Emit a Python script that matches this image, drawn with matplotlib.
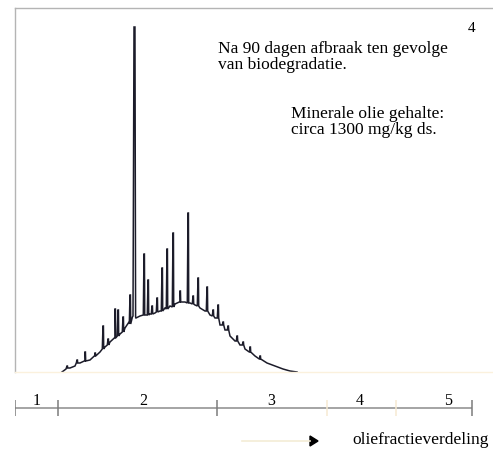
import matplotlib.pyplot as plt
import numpy as np

# Envelope of the unresolved hump (retention, signal), arbitrary units
env_rt = [47, 51, 55, 60, 65, 70, 75, 80, 85, 90, 95, 100, 105, 110, 114, 118,
          121, 125, 130, 135, 140, 145, 150, 155, 160, 165, 170, 175, 180, 185,
          190, 195, 200, 205, 210, 215, 220, 225, 230, 235, 240, 245, 252, 260,
          268, 275, 282]
env_sig = [0, 3, 4, 6, 9, 11, 12, 16, 20, 25, 30, 34, 38, 44, 50, 56,
           54, 56, 57, 58, 59, 61, 64, 66, 68, 70, 70, 69, 67, 64,
           61, 57, 54, 47, 42, 36, 31, 27, 23, 20, 16, 13, 9, 6,
           3, 1, 0]

# Resolved peaks: retention, signal at peak foot, signal at apex
peak_rt = [52, 62, 70, 80, 88, 93, 100, 103, 108, 115, 119, 129, 133, 137, 142,
           147, 152, 158, 165, 173, 178, 183, 192, 198, 203, 208, 213, 222, 228,
           235, 245]
peak_base = [4, 9, 11, 16, 23, 27, 34, 36, 40, 48, 55, 57, 57, 58, 60,
             61, 63, 65, 70, 69, 68, 66, 61, 56, 54, 47, 42, 31, 27,
             20, 13]
peak_top = [6, 12, 20, 19, 46, 33, 63, 62, 55, 77, 345, 118, 92, 66, 74,
            104, 123, 139, 81, 159, 76, 94, 85, 62, 67, 50, 46, 36, 30,
            25, 16]

# Fraction scale below the chromatogram
frac_edges = [0, 43, 202, 312, 381, 457]
frac_major = [True, True, True, False, False, True]
frac_labels = ['1', '2', '3', '4', '5']
frac_label_pos = [22, 128, 256, 345, 433]

# merge envelope and peaks into one trace
pts = list(zip(env_rt, env_sig))
for rt, base, top in zip(peak_rt, peak_base, peak_top):
    w = 1.6 if top > 300 else 0.7
    pts += [(rt - w, base), (rt, top), (rt + w * 0.6, top), (rt + w, base)]
pts.sort(key=lambda p: p[0])
trace_rt = [p[0] for p in pts]
trace_sig = [p[1] for p in pts]

W, H = 493, 450
fig = plt.figure(figsize=(W / 100, H / 100), dpi=100)
serif = 'Liberation Serif'

ax = fig.add_axes([15 / W, (H - 372) / H, 478 / W, 364 / H])
ax.plot(trace_rt, trace_sig, color='#1c1c2a', lw=1.1, solid_joinstyle='miter')
ax.set_xlim(0, 478)
ax.set_ylim(0, 364)
ax.set_xticks([])
ax.set_yticks([])
ax.spines['right'].set_visible(False)
for s in ('top', 'left'):
    ax.spines[s].set_color('#b4b4b4')
    ax.spines[s].set_linewidth(1.0)
ax.spines['bottom'].set_color('#fbf1dd')
ax.spines['bottom'].set_linewidth(1.0)

ax.text(457, 344, '4', fontfamily=serif, fontsize=11, ha='center', va='center')
ax.text(203, 315, 'Na 90 dagen afbraak ten gevolge\nvan biodegradatie.',
        fontfamily=serif, fontsize=12.5, ha='left', va='center', linespacing=1.0)
ax.text(276, 250, 'Minerale olie gehalte:\ncirca 1300 mg/kg ds.',
        fontfamily=serif, fontsize=12.5, ha='left', va='center', linespacing=1.0)

# fraction scale
sx = fig.add_axes([15 / W, (H - 420) / H, 478 / W, 24 / H])
sx.set_xlim(0, 478)
sx.set_ylim(-1, 1)
sx.axis('off')
sx.hlines(-0.0, frac_edges[0], frac_edges[-1], color='#8c8c8c', lw=1.1)
for e, major in zip(frac_edges, frac_major):
    sx.vlines(e, -0.7, 0.7, color='#7c7c7c' if major else '#f6ead2', lw=1.1)
for lab, pos in zip(frac_labels, frac_label_pos):
    sx.text(pos, 0.6, lab, fontfamily=serif, fontsize=11.5, ha='center', va='center')

# direction arrow with caption
fig.add_artist(plt.Line2D([242 / W, 310 / W], [(H - 441) / H] * 2,
                          color='#f4ecd6', lw=1.2))
fig.add_artist(plt.Polygon([[310 / W, (H - 436) / H], [318 / W, (H - 441) / H],
                            [310 / W, (H - 446) / H]], closed=True,
                           color='black', transform=fig.transFigure))
fig.text(352 / W, (H - 440) / H, 'oliefractieverdeling', fontfamily=serif,
         fontsize=12.5, ha='left', va='center')

fig.savefig('out.png', dpi=100)
